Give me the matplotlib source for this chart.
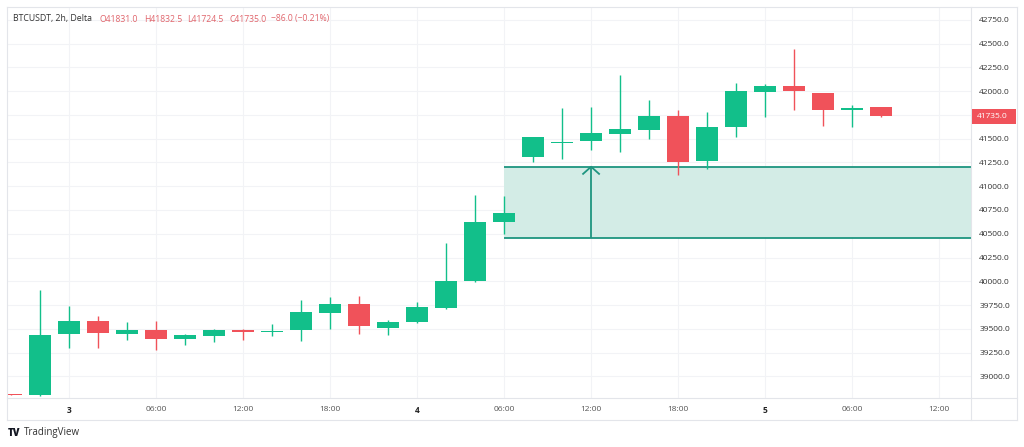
import matplotlib.pyplot as plt
from matplotlib.lines import Line2D
from matplotlib.patches import Rectangle

# hours after day "3" 00:00, one candle every 2h
times = [-4, -2, 0, 2, 4, 6, 8, 10, 12, 14, 16, 18, 20, 22, 24, 26, 28, 30,
         32, 34, 36, 38, 40, 42, 44, 46, 48, 50, 52, 54, 56]
opens = [38815, 38800, 39450, 39580, 39450, 39490, 39390, 39420, 39490, 39465,
         39490, 39665, 39765, 39510, 39570, 39720, 40000, 40625, 41310, 41455,
         41480, 41550, 41595, 41735, 41270, 41620, 41990, 42055, 41980, 41805, 41831.0]
highs = [38818, 39910, 39735, 39630, 39575, 39580, 39450, 39500, 39495, 39555,
         39800, 39835, 39850, 39595, 39780, 40400, 40905, 40900, 41520, 41820,
         41830, 42170, 41910, 41800, 41785, 42085, 42080, 42445, 41985, 41855, 41832.5]
lows = [38800, 38790, 39300, 39300, 39385, 39275, 39325, 39365, 39385, 39420,
        39370, 39500, 39450, 39435, 39560, 39710, 39995, 40500, 41260, 41290,
        41385, 41365, 41495, 41120, 41180, 41515, 41725, 41800, 41635, 41620, 41724.5]
closes = [38805, 39440, 39580, 39455, 39490, 39390, 39435, 39485, 39465, 39480,
          39680, 39765, 39525, 39570, 39725, 40000, 40620, 40720, 41515, 41470,
          41560, 41600, 41735, 41260, 41620, 42000, 42055, 42005, 41805, 41820, 41735.0]

price_ticks = [39000, 39250, 39500, 39750, 40000, 40250, 40500, 40750,
               41000, 41250, 41500, 41750, 42000, 42250, 42500, 42750]
hidden_tick = 41750  # covered by the last-price badge
time_ticks = [0, 6, 12, 18, 24, 30, 36, 42, 48, 54, 60]
time_labels = ['3', '06:00', '12:00', '18:00', '4', '06:00', '12:00', '18:00', '5', '06:00', '12:00']
day_labels = ['3', '4', '5']

# price range drawing
box_start = 30
box_top = 41205
box_bottom = 40458
arrow_time = 36
last_price = 41735.0

GREEN = '#12bf8a'
RED = '#f0525a'
W, H = 1024, 447

plt.rcParams['font.family'] = ['Open Sans', 'DejaVu Sans']

fig = plt.figure(figsize=(W / 100, H / 100), dpi=100)
fig.patch.set_facecolor('white')
ax = fig.add_axes([8 / W, (H - 398) / H, (971 - 8) / W, (398 - 8) / H])

for t, o, h, l, c in zip(times, opens, highs, lows, closes):
    col = GREEN if c >= o else RED
    ax.vlines(t, l, h, color=col, lw=1, zorder=3)
    body = max(abs(c - o), 12)
    ax.bar(t, body, width=1.52, bottom=min(o, c), color=col, lw=0, zorder=4)

ax.set_xlim(-4.21, 62.2)
ax.set_ylim(38772, 42875)

# shaded price range with arrow
ax.add_patch(Rectangle((box_start, box_bottom), 80, box_top - box_bottom,
                       facecolor='#d3ece6', edgecolor='none', zorder=2))
ax.hlines([box_top, box_bottom], box_start, 80, color='#1e9580', lw=1.3, zorder=2.5)
ax.vlines(arrow_time, box_bottom, box_top, color='#1e9580', lw=1.3, zorder=2.5)
ax.plot([arrow_time - 0.55, arrow_time, arrow_time + 0.55],
        [box_top - 75, box_top, box_top - 75], color='#1e9580', lw=1.3, zorder=2.5)

ax.grid(True, color='#f2f3f6', lw=0.8, zorder=0)
ax.set_axisbelow(True)
for s in ax.spines.values():
    s.set_visible(False)

ax.yaxis.tick_right()
ax.set_yticks(price_ticks)
ax.set_yticklabels(['' if p == hidden_tick else f'{p:.1f}' for p in price_ticks])
ax.tick_params(axis='y', length=0, pad=6, labelsize=6, labelcolor='#333333')
ax.set_xticks(time_ticks)
ax.set_xticklabels(time_labels)
ax.tick_params(axis='x', length=0, pad=6, labelsize=6, labelcolor='#555555')
for lab in ax.get_xticklabels():
    if lab.get_text() in day_labels:
        lab.set_fontweight('bold')
        lab.set_color('#222222')

# last price badge on the scale
badge_y = ax.transData.transform((0, last_price))[1] / H
fig.add_artist(Rectangle((972 / W, badge_y - 7.5 / H), 44 / W, 15 / H,
                         transform=fig.transFigure, facecolor=RED, edgecolor='none', zorder=9))
fig.text(977 / W, badge_y, f'{last_price:.1f}', fontsize=6, color='white',
         ha='left', va='center', zorder=10)

# outer frame and scale separators
fr = fig.transFigure
def px(x, y):
    return x / W, 1 - y / H
frame_col = '#e3e5ea'
for (x0, y0), (x1, y1) in [((7, 7), (1017, 7)), ((7, 420), (1017, 420)),
                            ((7, 7), (7, 420)), ((1017, 7), (1017, 420)),
                            ((971, 7), (971, 420)), ((7, 398), (1017, 398))]:
    a, b = px(x0, y0), px(x1, y1)
    fig.add_artist(Line2D([a[0], b[0]], [a[1], b[1]], transform=fr, color=frame_col, lw=0.8))

# legend header
hy = 1 - 19 / H
fig.text(13 / W, hy, 'BTCUSDT, 2h, Delta', fontsize=6.3, color='#333333', va='center')
for x, s in [(100, 'O41831.0'), (144, 'H41832.5'), (187, 'L41724.5'),
             (229, 'C41735.0'), (271, '\u221286.0 (\u22120.21%)')]:
    fig.text(x / W, hy, s, fontsize=6.2, color='#e0646b', va='center')

# watermark
fig.text(8 / W, 1 - 433 / H, 'TV', fontsize=7, fontweight='heavy', color='#131722', va='center')
fig.text(24 / W, 1 - 433 / H, 'TradingView', fontsize=7, color='#333333', va='center')

plt.savefig('out.png', dpi=100)
